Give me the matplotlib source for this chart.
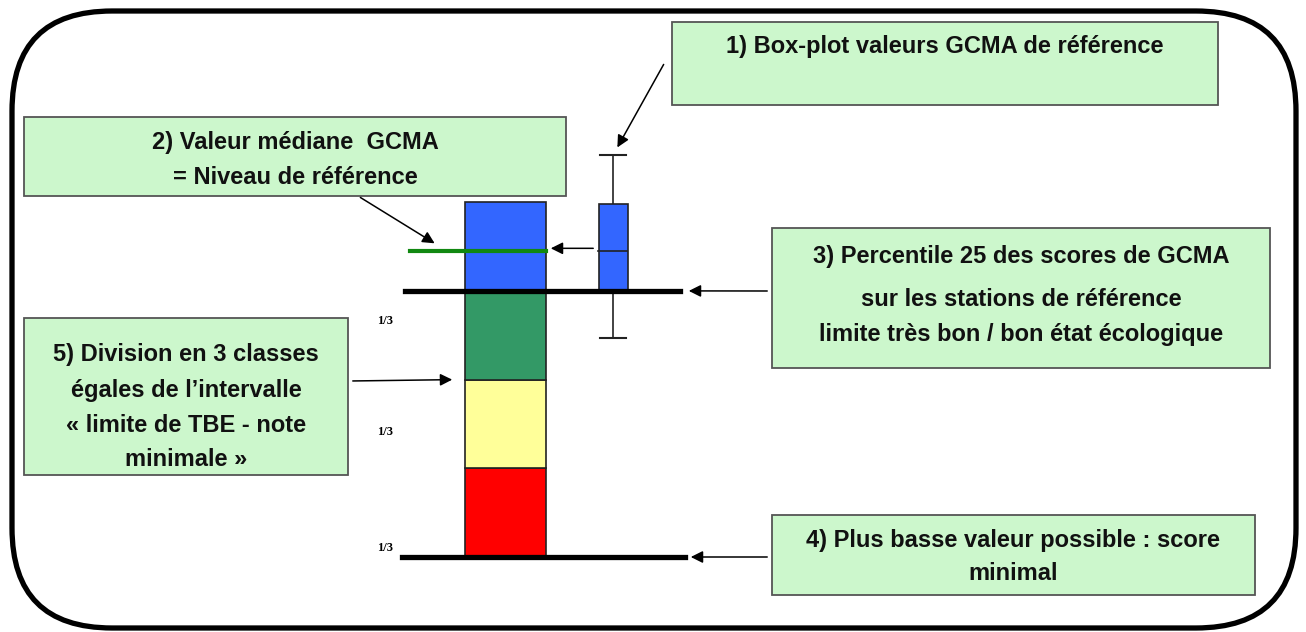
import matplotlib.pyplot as plt
from matplotlib.patches import FancyBboxPatch, Rectangle

# échelle de score : 0 = note minimale, 3 = percentile 25 (limite TBE)
classes = ["rouge", "jaune", "vert", "bleu"]
bornes_basses = [0, 1, 2, 3]
hauteurs = [1, 1, 1, 1]
couleurs = ["#ff0000", "#ffff99", "#339966", "#3366ff"]

# box-plot des valeurs GCMA de référence
moustache_basse = 2.47
p25 = 3.0
mediane = 3.45
p75 = 3.98
moustache_haute = 4.53
score_min = 0

tiers_labels = ["1/3", "1/3", "1/3"]
tiers_y = [2.66, 1.41, 0.10]

textes = {
    "1": ["1) Box-plot valeurs GCMA de référence"],
    "2": ["2) Valeur médiane  GCMA", "= Niveau de référence"],
    "3": ["3) Percentile 25 des scores de GCMA", "sur les stations de référence",
          "limite très bon / bon état écologique"],
    "4": ["4) Plus basse valeur possible : score", "minimal"],
    "5": ["5) Division en 3 classes", "égales de l\u2019intervalle",
          "« limite de TBE - note", "minimale »"],
}

PX = 88.7      # pixels par unité de score
Y0 = 557       # pixel de la note minimale

fig = plt.figure(figsize=(13.06, 6.32), dpi=100)
# axe de mise en page (pixels) et axe des scores superposés
lay = fig.add_axes([0, 0, 1, 1])
lay.set_xlim(0, 1306)
lay.set_ylim(632, 0)
lay.axis("off")
ax = fig.add_axes([0, 0, 1, 1])
ax.set_xlim(0, 1306)
ax.set_ylim((Y0 - 632) / PX, Y0 / PX)
ax.axis("off")
ax.patch.set_alpha(0)

police = ["Liberation Sans Narrow", "Liberation Sans", "DejaVu Sans"]

# cadre arrondi
lay.add_patch(FancyBboxPatch((12, 11), 1284, 617, boxstyle="round,pad=0,rounding_size=100",
                             fc="white", ec="black", lw=3.8, zorder=0))

# colonne des classes
ax.bar([505] * 4, hauteurs, bottom=bornes_basses, width=81, color=couleurs,
       edgecolor="#222222", linewidth=1.2, zorder=2)

# box-plot
ax.bar(613, p75 - p25, bottom=p25, width=29, color="#3366ff", edgecolor="#222222",
       linewidth=1.2, zorder=2)
ax.plot([598, 627], [mediane, mediane], color="#222222", lw=1.2, zorder=3)
ax.plot([613, 613], [p75, moustache_haute], color="#222222", lw=1.2, zorder=1)
ax.plot([613, 613], [moustache_basse, p25], color="#222222", lw=1.2, zorder=1)
ax.plot([600, 626], [moustache_haute] * 2, color="#222222", lw=1.5)
ax.plot([600, 626], [moustache_basse] * 2, color="#222222", lw=1.5)

# lignes de référence
ax.plot([410, 546], [mediane, mediane], color="#118811", lw=3, zorder=4)
ax.plot([405, 680], [p25, p25], color="black", lw=3.8, zorder=4)
ax.plot([402, 685], [score_min, score_min], color="black", lw=3.8, zorder=4)

for lab, y in zip(tiers_labels, tiers_y):
    ax.text(385, y, lab, ha="center", va="center", fontsize=9, fontweight="bold",
            family="Liberation Serif")

# encadrés de texte : (x, y, largeur, hauteur) en pixels, y des lignes
boites = {
    "1": ((672, 22, 546, 83), [47]),
    "2": ((24, 117, 542, 79), [142, 178]),
    "3": ((772, 228, 498, 140), [256, 299, 334]),
    "4": ((772, 515, 483, 80), [540, 573]),
    "5": ((24, 318, 324, 157), [355, 391, 425, 460]),
}
for k, ((x, y, w, h), ys) in boites.items():
    lay.add_patch(Rectangle((x, y), w, h, fc="#ccf7cc", ec="#555555", lw=1.3, zorder=5))
    for ligne, yl in zip(textes[k], ys):
        lay.text(x + w / 2, yl, ligne, ha="center", va="center", fontsize=17,
                 fontweight="bold", family=police, color="#111111", zorder=6)

fleche = dict(arrowstyle="-|>", color="black", lw=1.1, mutation_scale=18)
# 1) vers la moustache haute
ax.annotate("", xy=(616, moustache_haute + 0.06), xycoords="data",
            xytext=(665, 62), textcoords=lay.transData, arrowprops=fleche, zorder=7)
# 2) vers la ligne médiane
ax.annotate("", xy=(437, mediane + 0.07), xycoords="data",
            xytext=(358, 196), textcoords=lay.transData, arrowprops=fleche, zorder=7)
# médiane du box-plot vers la colonne
ax.annotate("", xy=(548, mediane + 0.03), xytext=(596, mediane + 0.03),
            arrowprops=fleche, zorder=7)
# 3) vers le percentile 25
ax.annotate("", xy=(686, p25), xycoords="data",
            xytext=(770, 291), textcoords=lay.transData, arrowprops=fleche, zorder=7)
# 4) vers la note minimale
ax.annotate("", xy=(688, score_min), xycoords="data",
            xytext=(770, 557), textcoords=lay.transData, arrowprops=fleche, zorder=7)
# 5) vers la colonne
ax.annotate("", xy=(455, 2.0), xycoords="data",
            xytext=(350, 381), textcoords=lay.transData, arrowprops=fleche, zorder=7)

fig.savefig("out.png", dpi=100)
